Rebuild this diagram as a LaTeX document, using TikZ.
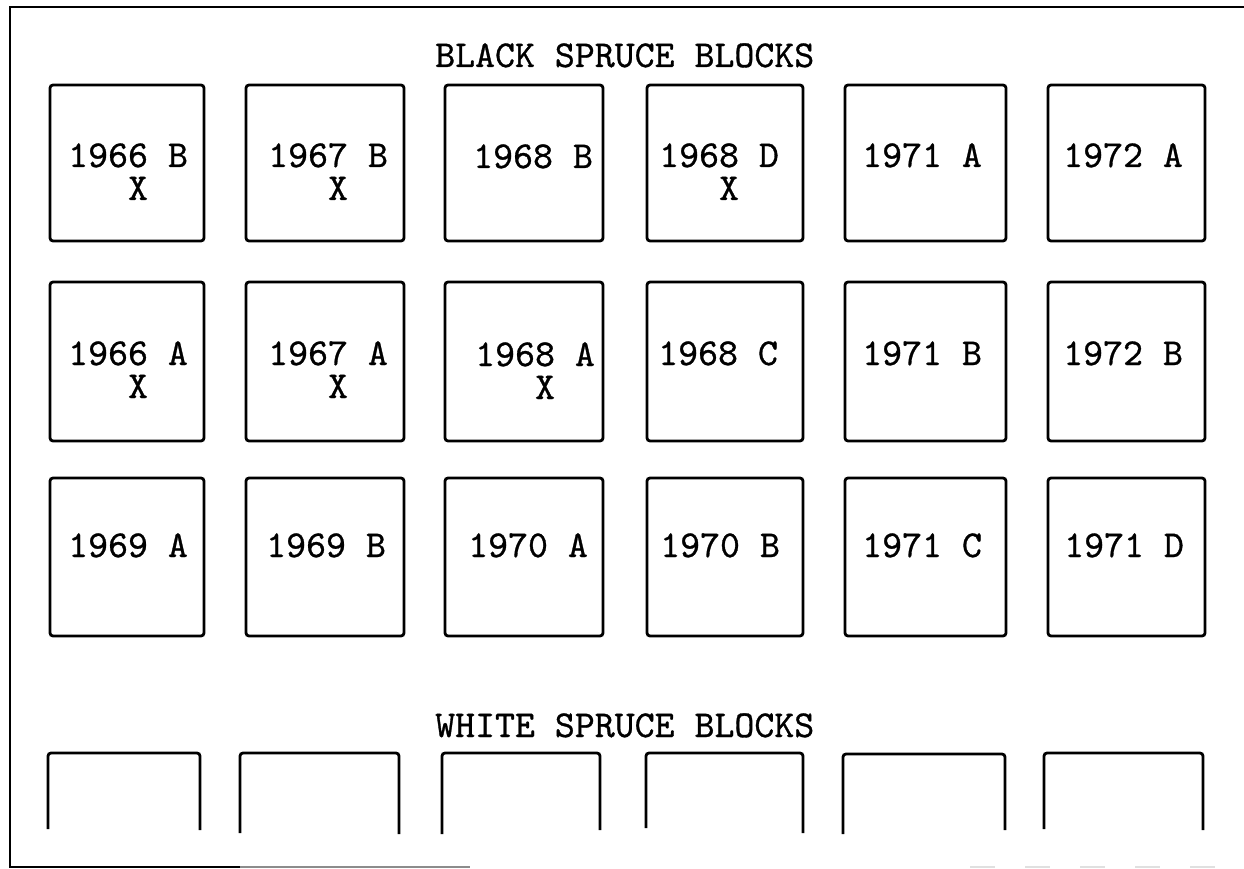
\documentclass[tikz,border=0pt]{standalone}
\usepackage{fontspec}
\newfontfamily\twfont{lmmono10-regular.otf}[FakeBold=0.8]
\usetikzlibrary{calc}
\begin{document}
\begin{tikzpicture}[x=1pt,y=-1pt,
  blk/.style={draw,line width=2.8pt,rounded corners=3pt,inner sep=0pt},
  lbl/.style={anchor=base west,inner sep=0pt,align=left,font=\twfont\fontsize{38}{33}\selectfont},
  openblk/.style={draw,line width=2.8pt,rounded corners=3pt},
  frame/.style={line width=2.8pt}]
\useasboundingbox (0,0) rectangle (1244,869);
% outer frame
\coordinate (ftr) at (1244,7);
\coordinate (ftl) at (10,7);
\coordinate (fbl) at (10,867);
\coordinate (fb1) at (240,867);
\coordinate (fb2) at (470,867);
\coordinate (fb3) at (970,867);
\coordinate (fb4) at (1230,867);
\draw[frame] (ftr) -- (ftl) -- (fbl) -- (fb1);
\draw[frame,black!45] (fb1) -- (fb2);
\draw[line width=1.2pt,black!12,dash pattern=on 25pt off 30pt] (fb3) -- (fb4);
% titles
\node[lbl] (tblack) at (435,67) {BLACK SPRUCE BLOCKS};
\node[lbl] (twhite) at (435,737) {WHITE SPRUCE BLOCKS};
% black spruce blocks: row 1
\node[blk,minimum width=154pt,minimum height=156pt] (b11) at (127,163) {};
\node[blk,minimum width=158pt,minimum height=156pt] (b12) at (325,163) {};
\node[blk,minimum width=158pt,minimum height=156pt] (b13) at (524,163) {};
\node[blk,minimum width=156pt,minimum height=156pt] (b14) at (725,163) {};
\node[blk,minimum width=161pt,minimum height=156pt] (b15) at (925.5,163) {};
\node[blk,minimum width=157pt,minimum height=156pt] (b16) at (1126.5,163) {};
% row 2
\node[blk,minimum width=154pt,minimum height=159pt] (b21) at (127,361.5) {};
\node[blk,minimum width=158pt,minimum height=159pt] (b22) at (325,361.5) {};
\node[blk,minimum width=158pt,minimum height=159pt] (b23) at (524,361.5) {};
\node[blk,minimum width=156pt,minimum height=159pt] (b24) at (725,361.5) {};
\node[blk,minimum width=161pt,minimum height=159pt] (b25) at (925.5,361.5) {};
\node[blk,minimum width=157pt,minimum height=159pt] (b26) at (1126.5,361.5) {};
% row 3
\node[blk,minimum width=154pt,minimum height=158pt] (b31) at (127,557) {};
\node[blk,minimum width=158pt,minimum height=158pt] (b32) at (325,557) {};
\node[blk,minimum width=158pt,minimum height=158pt] (b33) at (524,557) {};
\node[blk,minimum width=156pt,minimum height=158pt] (b34) at (725,557) {};
\node[blk,minimum width=161pt,minimum height=158pt] (b35) at (925.5,557) {};
\node[blk,minimum width=157pt,minimum height=158pt] (b36) at (1126.5,557) {};
% labels row 1 (two-line labels: base anchor is on the X line)
\node[lbl] (l11) at (68,200) {1966 B\\\phantom{196}X};
\node[lbl] (l12) at (268,200) {1967 B\\\phantom{196}X};
\node[lbl] (l13) at (473,168) {1968 B};
\node[lbl] (l14) at (659,200) {1968 D\\\phantom{196}X};
\node[lbl] (l15) at (862,167) {1971 A};
\node[lbl] (l16) at (1063,167) {1972 A};
% labels row 2
\node[lbl] (l21) at (68,398) {1966 A\\\phantom{196}X};
\node[lbl] (l22) at (268,398) {1967 A\\\phantom{196}X};
\node[lbl] (l23) at (475,399) {1968 A\\\phantom{196}X};
\node[lbl] (l24) at (658,365) {1968 C};
\node[lbl] (l25) at (862,365) {1971 B};
\node[lbl] (l26) at (1063,365) {1972 B};
% labels row 3
\node[lbl] (l31) at (68,557) {1969 A};
\node[lbl] (l32) at (266,557) {1969 B};
\node[lbl] (l33) at (468,557) {1970 A};
\node[lbl] (l34) at (660,557) {1970 B};
\node[lbl] (l35) at (862,557) {1971 C};
\node[lbl] (l36) at (1064,557) {1971 D};
% white spruce blocks (open at the bottom)
\draw[openblk] (48,829) -- (48,753) -- (200,753) -- (200,830);
\draw[openblk] (240,833) -- (240,753) -- (399,753) -- (399,834);
\draw[openblk] (442,834) -- (442,753) -- (600,753) -- (600,830);
\draw[openblk] (646,828) -- (646,753) -- (803,753) -- (803,833);
\draw[openblk] (843,834) -- (843,754) -- (1005,754) -- (1005,830);
\draw[openblk] (1044,829) -- (1044,753) -- (1203,753) -- (1203,830);
\end{tikzpicture}
\end{document}
